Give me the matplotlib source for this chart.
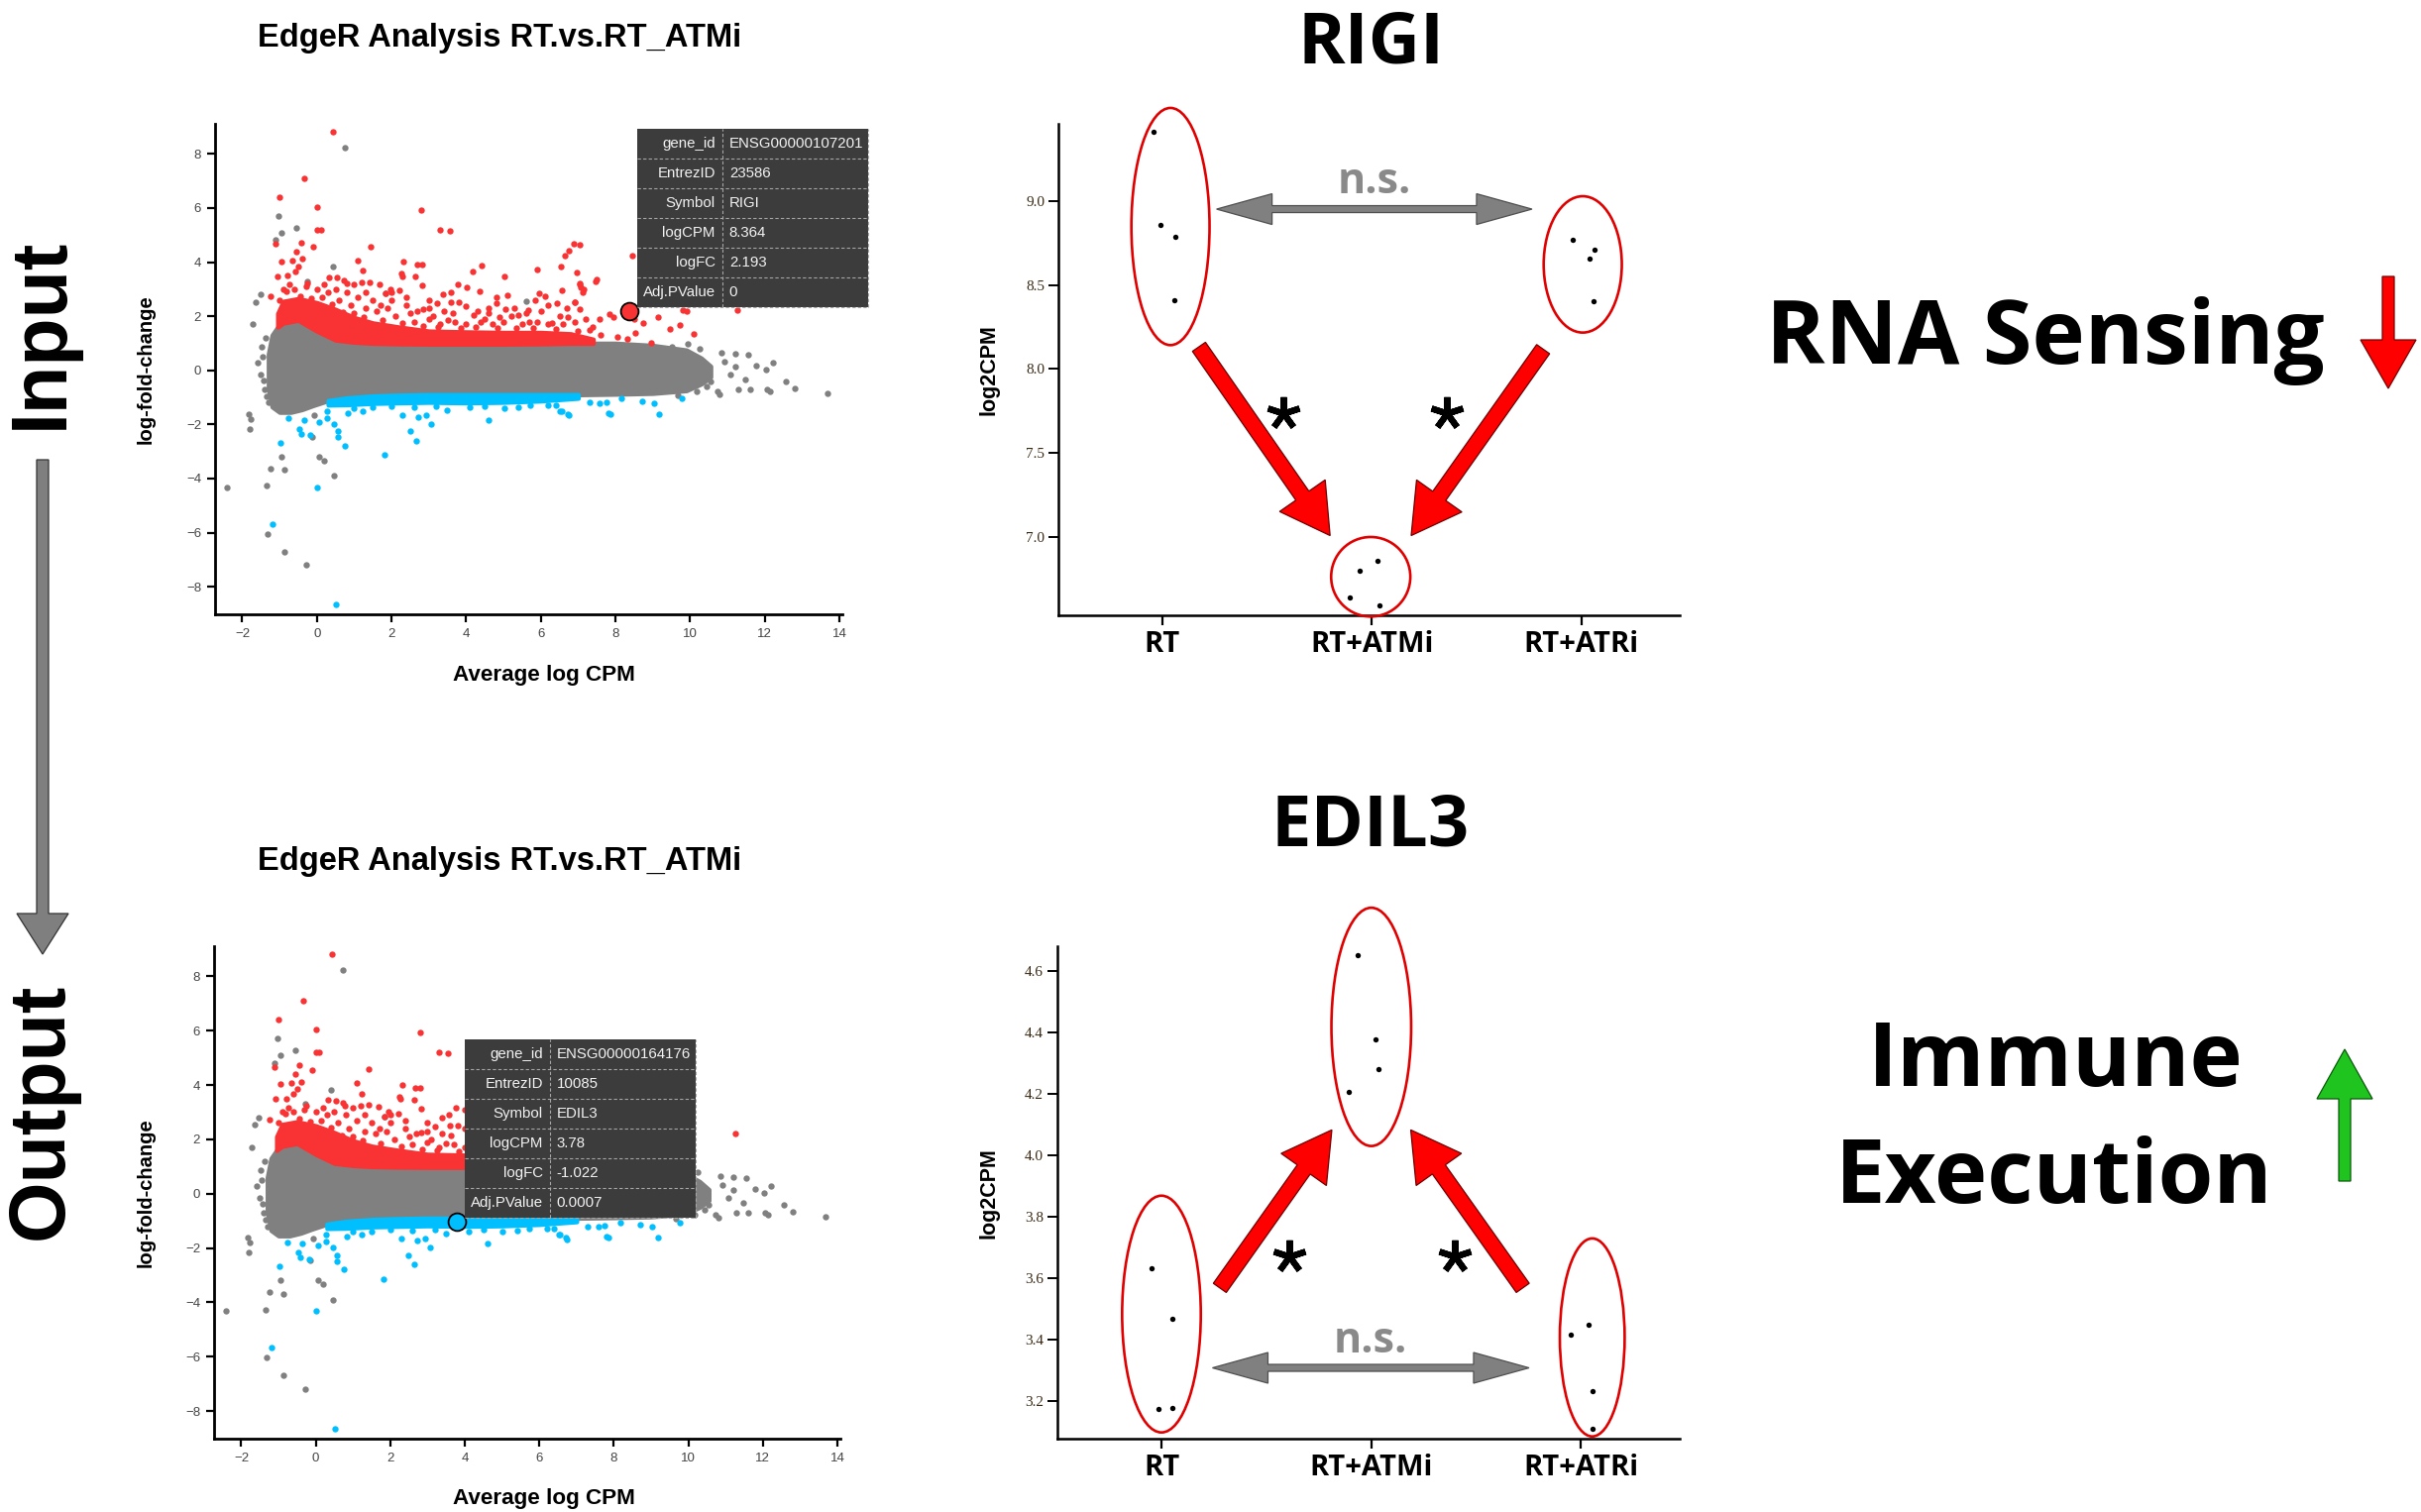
import numpy as np
import matplotlib
matplotlib.use('Agg')
import matplotlib.pyplot as plt
from matplotlib import font_manager
from matplotlib.patches import Ellipse, Polygon, Rectangle
from matplotlib.lines import Line2D
from matplotlib.transforms import IdentityTransform

# ---------------- data: MA plot (EdgeR RT.vs.RT_ATMi) ----------------
# dense grey cloud, read as an upper/lower envelope
cloud_x = [-1.30, -1.20, -1.00, -0.70, -0.40, -0.10, 0.30, 0.80, 1.50, 3.00, 5.00, 7.00, 8.00, 9.00, 9.90, 10.30, 10.55]
cloud_hi = [0.60, 1.30, 1.70, 1.95, 1.85, 1.55, 1.20, 1.05, 1.00, 0.97, 0.97, 1.00, 1.00, 0.92, 0.75, 0.45, 0.15]
cloud_lo = [-0.70, -1.35, -1.55, -1.55, -1.45, -1.30, -1.12, -1.02, -0.95, -0.90, -0.90, -0.90, -0.88, -0.85, -0.75, -0.50, -0.25]

# dense red (up) band on top of the cloud
up_x = [-1.05, -0.90, -0.50, 0.00, 0.50, 1.00, 1.50, 2.20, 3.00, 4.00, 5.00, 6.00, 6.80, 7.40]
up_hi = [2.10, 2.55, 2.65, 2.50, 2.25, 1.95, 1.75, 1.60, 1.45, 1.42, 1.40, 1.40, 1.35, 1.15]
up_lo = [1.60, 1.75, 1.85, 1.45, 1.12, 1.04, 1.00, 0.98, 0.97, 0.97, 0.97, 0.98, 1.00, 1.00]

# dense blue (down) band under the cloud
down_x = [0.30, 0.80, 1.50, 2.20, 3.00, 4.00, 5.00, 6.00, 7.00]
down_hi = [-1.12, -1.02, -0.95, -0.92, -0.90, -0.90, -0.90, -0.90, -0.90]
down_lo = [-1.28, -1.27, -1.22, -1.20, -1.18, -1.20, -1.18, -1.13, -1.03]

red_pts = np.array([
    (0.44, 8.80), (-0.34, 7.09), (-1.01, 6.41), (0.00, 6.05), (0.00, 5.20), (0.10, 5.20), (-1.11, 4.67),
    (-0.43, 4.72), (-0.10, 4.56), (2.80, 5.92), (3.30, 5.20), (3.56, 5.17), (1.43, 4.57), (-0.54, 4.40),
    (-0.95, 4.03), (-0.65, 4.07), (-0.39, 4.12), (1.09, 4.07), (-1.07, 3.48), (-0.79, 3.51), (-0.59, 3.66),
    (-0.50, 3.85), (-1.24, 2.74), (1.24, 3.68), (2.32, 4.02), (2.68, 3.90), (2.81, 3.90), (2.25, 3.58),
    (2.28, 3.48), (2.64, 3.46), (2.82, 3.14), (4.42, 3.88), (4.18, 3.64), (5.90, 3.73), (5.03, 3.48),
    (6.55, 3.84), (6.65, 4.23), (6.74, 4.41), (6.88, 4.69), (7.04, 4.65), (6.95, 3.63), (7.04, 3.23),
    (7.06, 3.08), (7.11, 2.89), (7.48, 3.30), (6.57, 2.97), (6.91, 2.53), (7.04, 2.25), (3.77, 3.17),
    (4.01, 3.08), (3.58, 2.90), (3.39, 2.80), (4.36, 2.92), (5.11, 2.78), (1.69, 3.19), (1.96, 3.01),
    (2.21, 2.95), (1.85, 2.84), (1.42, 3.26), (1.20, 3.24), (1.00, 3.18), (0.79, 3.22), (0.32, 3.45),
    (0.54, 3.43), (0.72, 3.34), (5.95, 2.84), (6.10, 2.74), (5.85, 2.59), (6.19, 2.41), (6.42, 2.49),
    (6.73, 1.98), (6.90, 2.52), (2.84, 2.25), (3.21, 2.47), (3.64, 2.13), (3.99, 2.38), (4.81, 2.49),
    (5.05, 2.25), (5.30, 2.29), (5.65, 2.24), (5.40, 2.04), (-0.81, 2.93), (-0.73, 3.17), (-0.26, 3.23),
    (0.20, 3.17), (2.50, 2.10), (3.00, 1.90), (4.50, 1.90), (5.70, 1.80), (6.30, 1.75), (7.30, 1.50),
    (7.60, 1.30), (1.70, 2.40), (2.00, 2.60), (4.20, 2.05), (4.90, 1.95), (3.50, 1.85), (8.44, 4.23),
    (8.83, 3.54), (11.27, 2.21), (9.81, 2.24), (9.15, 1.96), (9.46, 1.53), (9.73, 1.66), (10.10, 1.33),
    (8.75, 1.75), (8.49, 1.89), (8.53, 1.38), (8.31, 1.17), (8.05, 1.23), (7.84, 2.07), (7.58, 1.90),
    (7.49, 3.35), (7.05, 3.16), (7.14, 3.00), (8.96, 1.03), (7.94, 1.98), (9.92, 2.18),
    (1.30, 2.30), (1.50, 2.60), (1.60, 2.20), (1.90, 2.30), (2.10, 2.00), (2.40, 2.40), (2.60, 1.80),
    (2.70, 2.20), (3.00, 2.30), (3.10, 2.00), (3.30, 1.70), (3.40, 2.20), (3.70, 1.80), (3.80, 2.50),
    (4.00, 1.70), (4.30, 2.20), (4.40, 1.80), (4.60, 2.30), (4.70, 1.70), (5.00, 1.80), (5.20, 2.00),
    (5.50, 1.70), (5.60, 2.10), (5.90, 1.80), (6.00, 2.20), (6.20, 1.70), (6.50, 2.00), (6.60, 1.70),
    (6.90, 1.80), (7.20, 1.90), (7.40, 1.60), (0.60, 2.60), (0.90, 2.40), (1.10, 2.70), (0.30, 2.90),
    (0.00, 3.00), (-0.30, 3.10), (-0.60, 3.00), (-0.90, 3.00), (-1.00, 2.60), (0.80, 2.90), (1.30, 2.90),
    (0.50, 3.00), (2.00, 2.90), (2.40, 2.70), (3.00, 2.60), (4.80, 2.70), (6.70, 2.30), (3.60, 2.50),
    (4.60, 2.10), (-0.45, 2.75), (-0.15, 2.65), (0.15, 2.70), (0.40, 2.45), (0.70, 2.15), (1.00, 2.10),
    (1.25, 1.95), (1.75, 1.85), (2.30, 1.75), (2.85, 1.65), (3.25, 1.60), (3.85, 1.55), (4.25, 1.60),
    (4.85, 1.55), (5.35, 1.55), (5.80, 1.55), (6.40, 1.52), (7.00, 1.45),
])

grey_pts = np.array([
    (0.74, 8.23), (-1.02, 5.71), (-0.95, 5.09), (-0.55, 5.28), (-1.10, 4.82), (0.42, 3.83), (-1.52, 2.80),
    (-1.65, 2.53), (-1.72, 1.72), (-1.48, 0.88), (-1.58, 0.27), (-1.43, -0.37), (-1.34, -0.95),
    (-1.82, -1.61), (-1.78, -1.80), (-1.79, -2.18), (-0.08, -1.66), (-0.14, -2.46), (-0.95, -3.19),
    (0.07, -3.19), (0.20, -3.34), (-1.24, -3.62), (-0.88, -3.68), (0.45, -3.90), (-2.41, -4.33),
    (-1.35, -4.27), (-1.31, -6.04), (-0.86, -6.70), (-0.28, -7.20), (1.85, 2.84), (5.60, 2.54),
    (-0.27, 3.30), (9.52, 0.87), (9.95, 0.99), (10.26, 0.81), (10.85, 0.65), (11.21, 0.62), (11.56, 0.56),
    (11.78, 0.16), (12.03, 0.01), (12.22, 0.29), (12.56, -0.41), (12.80, -0.66), (12.06, -0.72),
    (13.68, -0.84), (11.47, -0.35), (11.21, 0.14), (10.74, -0.78), (10.54, -0.41), (11.07, -0.17),
    (10.36, 0.01), (11.60, -0.72), (10.92, 0.32), (10.10, 0.26), (10.17, -0.77), (9.66, -0.93),
    (12.13, -0.77), (11.29, -0.70), (10.80, -0.89), (10.43, -0.61), (-1.45, 0.50), (-1.40, -0.70),
    (-1.50, -0.15), (-1.38, 1.20), (-1.30, -1.20),
])

blue_pts = np.array([
    (-1.19, -5.67), (0.00, -4.33), (0.51, -8.67), (-0.97, -2.68), (-0.48, -2.18), (-0.41, -2.36),
    (-0.17, -2.40), (-0.77, -1.78), (-0.35, -1.85), (0.06, -1.91), (0.28, -1.76), (0.45, -1.97),
    (0.56, -2.26), (0.56, -2.48), (0.76, -2.79), (1.81, -3.13), (2.49, -2.26), (2.65, -2.60),
    (3.06, -1.97), (2.72, -1.72), (2.93, -1.66), (2.29, -1.65), (4.60, -1.83), (6.52, -1.50),
    (6.72, -1.63), (7.81, -1.59), (7.58, -1.22), (7.75, -1.17), (0.28, -1.50), (0.84, -1.58),
    (1.23, -1.50), (1.50, -1.38), (2.00, -1.34), (3.49, -1.48), (5.02, -1.41), (5.72, -1.28),
    (6.20, -1.28), (8.17, -1.05), (8.71, -1.13), (9.03, -1.23), (9.18, -1.62), (9.77, -1.05),
    (7.86, -1.62), (6.75, -1.67), (6.56, -1.51), (1.00, -1.40), (2.60, -1.35), (3.20, -1.32),
    (4.10, -1.38), (4.50, -1.33), (5.40, -1.36), (6.40, -1.30), (7.30, -1.20),
])

ma_xticks = [-2, 0, 2, 4, 6, 8, 10, 12, 14]
ma_yticks = [-8, -6, -4, -2, 0, 2, 4, 6, 8]

tip_labels = ['gene_id', 'EntrezID', 'Symbol', 'logCPM', 'logFC', 'Adj.PValue']
rigi_tip = ['ENSG00000107201', '23586', 'RIGI', '8.364', '2.193', '0']
edil3_tip = ['ENSG00000164176', '10085', 'EDIL3', '3.78', '-1.022', '0.0007']
rigi_ma = (8.364, 2.193)
edil3_ma = (3.78, -1.022)

# ---------------- data: per-gene log2CPM ----------------
groups = ['RT', 'RT+ATMi', 'RT+ATRi']
rigi_cpm = [[9.416, 8.862, 8.788, 8.414], [6.796, 6.857, 6.634, 6.587], [8.769, 8.714, 8.660, 8.406]]
rigi_jit = [[-0.041, -0.009, 0.062, 0.057], [-0.057, 0.025, -0.103, 0.038], [-0.043, 0.062, 0.039, 0.059]]
edil3_cpm = [[3.632, 3.468, 3.176, 3.180], [4.651, 4.377, 4.280, 4.208], [3.417, 3.450, 3.232, 3.110]]
edil3_jit = [[-0.045, 0.054, -0.014, 0.053], [-0.064, 0.018, 0.034, -0.107], [-0.048, 0.034, 0.054, 0.054]]
rigi_ticks = [7.0, 7.5, 8.0, 8.5, 9.0]
edil3_ticks = [3.2, 3.4, 3.6, 3.8, 4.0, 4.2, 4.4, 4.6]

# ---------------- fonts ----------------
avail = {f.name for f in font_manager.fontManager.ttflist}


def pick(*names):
    for n in names:
        if n in avail:
            return n
    return 'DejaVu Sans'


SANS = pick('Liberation Sans', 'Arimo')
NARROW = pick('Liberation Sans Narrow', 'Liberation Sans')
SERIF = pick('Liberation Serif', 'DejaVu Serif')
MYR = pick('Open Sans', 'Lato', 'Noto Sans')

GREY, RED, BLUE = '#808080', '#f93333', '#00bfff'

W, H = 2443, 1526
fig = plt.figure(figsize=(W / 100, H / 100), dpi=100)
IDT = IdentityTransform()


def px_axes(l, t, r, b):
    return fig.add_axes([l / W, 1 - b / H, (r - l) / W, (b - t) / H])


def ftext(x, y, s, **kw):
    return fig.text(x / W, 1 - y / H, s, **kw)


def arrow(p0, p1, shaft, head_w, head_len, fc, ec, double=False, lw=0.9):
    # polygon arrow in display pixels
    p0, p1 = np.asarray(p0, float), np.asarray(p1, float)
    d = p1 - p0
    u = d / np.hypot(*d)
    n = np.array([-u[1], u[0]])
    s, hw = shaft / 2, head_w / 2
    b1 = p1 - u * head_len
    if double:
        b0 = p0 + u * head_len
        pts = [p0, b0 + n * hw, b0 + n * s, b1 + n * s, b1 + n * hw, p1,
               b1 - n * hw, b1 - n * s, b0 - n * s, b0 - n * hw]
    else:
        pts = [p0 + n * s, b1 + n * s, b1 + n * hw, p1, b1 - n * hw, b1 - n * s, p0 - n * s]
    fig.add_artist(Polygon(pts, closed=True, transform=IDT, fc=fc, ec=ec, lw=lw, zorder=6))


def tooltip(ax, xy, vals):
    X, Y = ax.transData.transform(xy)
    l, b = X + 8, Y + 4
    w, rh, split = 233, 30, 86
    t = b + len(tip_labels) * rh
    fig.add_artist(Rectangle((l, b), w, t - b, transform=IDT, fc='#3c3c3c', ec='none', zorder=10))
    dash = dict(color='#a5a5a5', lw=0.8, ls=(0, (3, 2)), transform=IDT, zorder=11)
    for i, (lab, val) in enumerate(zip(tip_labels, vals)):
        yb = t - (i + 1) * rh
        fig.add_artist(Line2D([l, l + w], [yb, yb], **dash))
        kw = dict(transform=IDT, va='center', fontsize=10.8, color='#f2f2f2', family=SANS, zorder=12)
        fig.text(l + split - 7, yb + rh / 2, lab, ha='right', **kw)
        fig.text(l + split + 7, yb + rh / 2, val, ha='left', **kw)
    fig.add_artist(Line2D([l + split] * 2, [b, t], **dash))
    fig.add_artist(Line2D([l + w] * 2, [b, t], **dash))


def ma_plot(box, top_off, hl, hl_color, tip_vals):
    ax = px_axes(*box)
    edge = dict(lw=3.2, joinstyle='round')
    ax.fill_between(cloud_x, cloud_lo, cloud_hi, color=GREY, **edge)
    ax.scatter(grey_pts[:, 0], grey_pts[:, 1], s=21, c=GREY, lw=0)
    ax.fill_between(up_x, up_lo, up_hi, color=RED, **edge)
    ax.scatter(red_pts[:, 0], red_pts[:, 1], s=21, c=RED, lw=0)
    ax.fill_between(down_x, down_lo, down_hi, color=BLUE, **edge)
    ax.scatter(blue_pts[:, 0], blue_pts[:, 1], s=21, c=BLUE, lw=0)
    ax.scatter([hl[0]], [hl[1]], s=165, c=hl_color, edgecolors='black', lw=1.3, zorder=5)
    ax.set_xlim(-2.73, 14.08)
    ax.set_ylim(-9.02, 9.11)
    ax.set_xticks(ma_xticks)
    ax.set_yticks(ma_yticks)
    for sp in ['top', 'right']:
        ax.spines[sp].set_visible(False)
    for sp in ['left', 'bottom']:
        ax.spines[sp].set_linewidth(2.0)
    ax.tick_params(direction='out', length=6, width=1.6, labelsize=9.5, labelcolor='#444444', pad=4)
    for lab in ax.get_xticklabels() + ax.get_yticklabels():
        lab.set_family(SANS)
    ftext(504, top_off + 47, 'EdgeR Analysis RT.vs.RT_ATMi', ha='center', va='baseline',
          fontsize=23.5, fontweight='bold', family=SANS)
    ftext(549, top_off + 687, 'Average log CPM', ha='center', va='baseline',
          fontsize=16.2, fontweight='bold', family=SANS)
    ftext(147, (box[1] + box[3]) / 2, 'log-fold-change', rotation=90, ha='center', va='center',
          fontsize=17 if NARROW != SANS else 14.5, fontweight='bold', family=NARROW)
    tooltip(ax, hl, tip_vals)
    return ax


def strip_plot(box, title, title_base, vals, jit, ylim, ticks, rings):
    ax = px_axes(*box)
    for i, (v, j) in enumerate(zip(vals, jit)):
        ax.scatter(np.add(i, j), v, s=15, c='black', lw=0, zorder=3, clip_on=False)
    for cx, cy, w, h in rings:
        ax.add_patch(Ellipse((cx, cy), w, h, fill=False, ec='#e00000', lw=1.9, clip_on=False, zorder=4))
    ax.set_xlim(-0.496, 2.47)
    ax.set_ylim(*ylim)
    ax.set_xticks(range(len(groups)))
    ax.set_xticklabels(groups, family=MYR, fontweight='bold', fontsize=21)
    ax.set_yticks(ticks)
    ax.set_yticklabels([f'{t:.1f}' for t in ticks], family=SERIF, fontsize=11, color='#3a2a14')
    for sp in ['top', 'right']:
        ax.spines[sp].set_visible(False)
    for sp in ['left', 'bottom']:
        ax.spines[sp].set_linewidth(1.8)
    ax.tick_params(axis='x', direction='out', length=7, width=1.6, pad=4)
    ax.tick_params(axis='y', direction='out', length=7, width=1.4, pad=3)
    ftext(998, (box[1] + box[3]) / 2, 'log2CPM', rotation=90, ha='center', va='center',
          fontsize=15.5, fontweight='bold', family=SANS)
    ftext(1383, title_base, title, ha='center', va='baseline', fontsize=52,
          fontweight='bold', family=MYR)
    return ax


def in_px(ax, xy):
    return ax.transData.transform(xy)


# ---- MA plots ----
ma_top = ma_plot((217, 125, 850, 620), 0, rigi_ma, RED, rigi_tip)
ma_bot = ma_plot((216, 955, 848, 1452), 831, edil3_ma, BLUE, edil3_tip)

# ---- RIGI ----
ax_r = strip_plot((1068, 125, 1695, 620.5), 'RIGI', 63, rigi_cpm, rigi_jit, (6.533, 9.464), rigi_ticks,
                  [(0.039, 8.851, 0.373, 1.416), (0.995, 6.760, 0.378, 0.475), (2.007, 8.625, 0.373, 0.814)])
arrow(in_px(ax_r, (0.259, 8.955)), in_px(ax_r, (1.765, 8.955)), 7, 31, 56, GREY, '#505050', double=True)
ax_r.text(1.013, 9.048, 'n.s.', ha='center', va='baseline', fontsize=31, fontweight='bold',
          color='#8a8a8a', family=MYR)
arrow(in_px(ax_r, (0.175, 8.133)), in_px(ax_r, (0.801, 7.006)), 16, 56, 49, '#ff0000', '#700000')
arrow(in_px(ax_r, (1.818, 8.119)), in_px(ax_r, (1.188, 7.006)), 16, 56, 49, '#ff0000', '#700000')
ax_r.plot([0.576, 1.360], [7.738, 7.738], ls='none', marker=(5, 2, 0), ms=24, mew=4.5, color='black')

# ---- EDIL3 ----
ax_e = strip_plot((1067, 955.4, 1695, 1452.2), 'EDIL3', 853, edil3_cpm, edil3_jit, (3.078, 4.679),
                  edil3_ticks,
                  [(0.0, 3.484, 0.375, 0.770), (1.0, 4.418, 0.380, 0.775), (2.053, 3.408, 0.309, 0.644)])
arrow(in_px(ax_e, (0.243, 3.309)), in_px(ax_e, (1.752, 3.309)), 7, 31, 56, GREY, '#505050', double=True)
ax_e.text(0.994, 3.360, 'n.s.', ha='center', va='baseline', fontsize=31, fontweight='bold',
          color='#8a8a8a', family=MYR)
arrow(in_px(ax_e, (0.278, 3.569)), in_px(ax_e, (0.812, 4.083)), 16, 56, 49, '#ff0000', '#700000')
arrow(in_px(ax_e, (1.722, 3.569)), in_px(ax_e, (1.188, 4.083)), 16, 56, 49, '#ff0000', '#700000')
ax_e.plot([0.608, 1.397], [3.672, 3.672], ls='none', marker=(5, 2, 0), ms=24, mew=4.5, color='black')

# ---- left column: Input -> Output ----
ftext(63, 336.5, 'Input', rotation=90, rotation_mode='anchor', ha='center', va='baseline',
      fontsize=57, fontweight='bold', family=SANS)
ftext(63, 1121.5, 'Output', rotation=90, rotation_mode='anchor', ha='center', va='baseline',
      fontsize=57, fontweight='bold', family=SANS)
arrow((43, H - 464), (43, H - 963), 12, 52, 41, '#7f7f7f', '#333333')

# ---- right column ----
ftext(2064, 367, 'RNA Sensing', ha='center', va='baseline', fontsize=65, fontweight='bold', family=MYR)
ftext(2074, 1096, 'Immune', ha='center', va='baseline', fontsize=65, fontweight='bold', family=MYR)
ftext(2073, 1214, 'Execution', ha='center', va='baseline', fontsize=65, fontweight='bold', family=MYR)
arrow((2410, H - 279), (2410, H - 392), 12, 56, 49, '#ff0000', '#7a0000')
arrow((2366, H - 1192), (2366, H - 1059), 12, 56, 50, '#1fc41f', '#0a5a0a')

fig.savefig('out.png', dpi=100)
